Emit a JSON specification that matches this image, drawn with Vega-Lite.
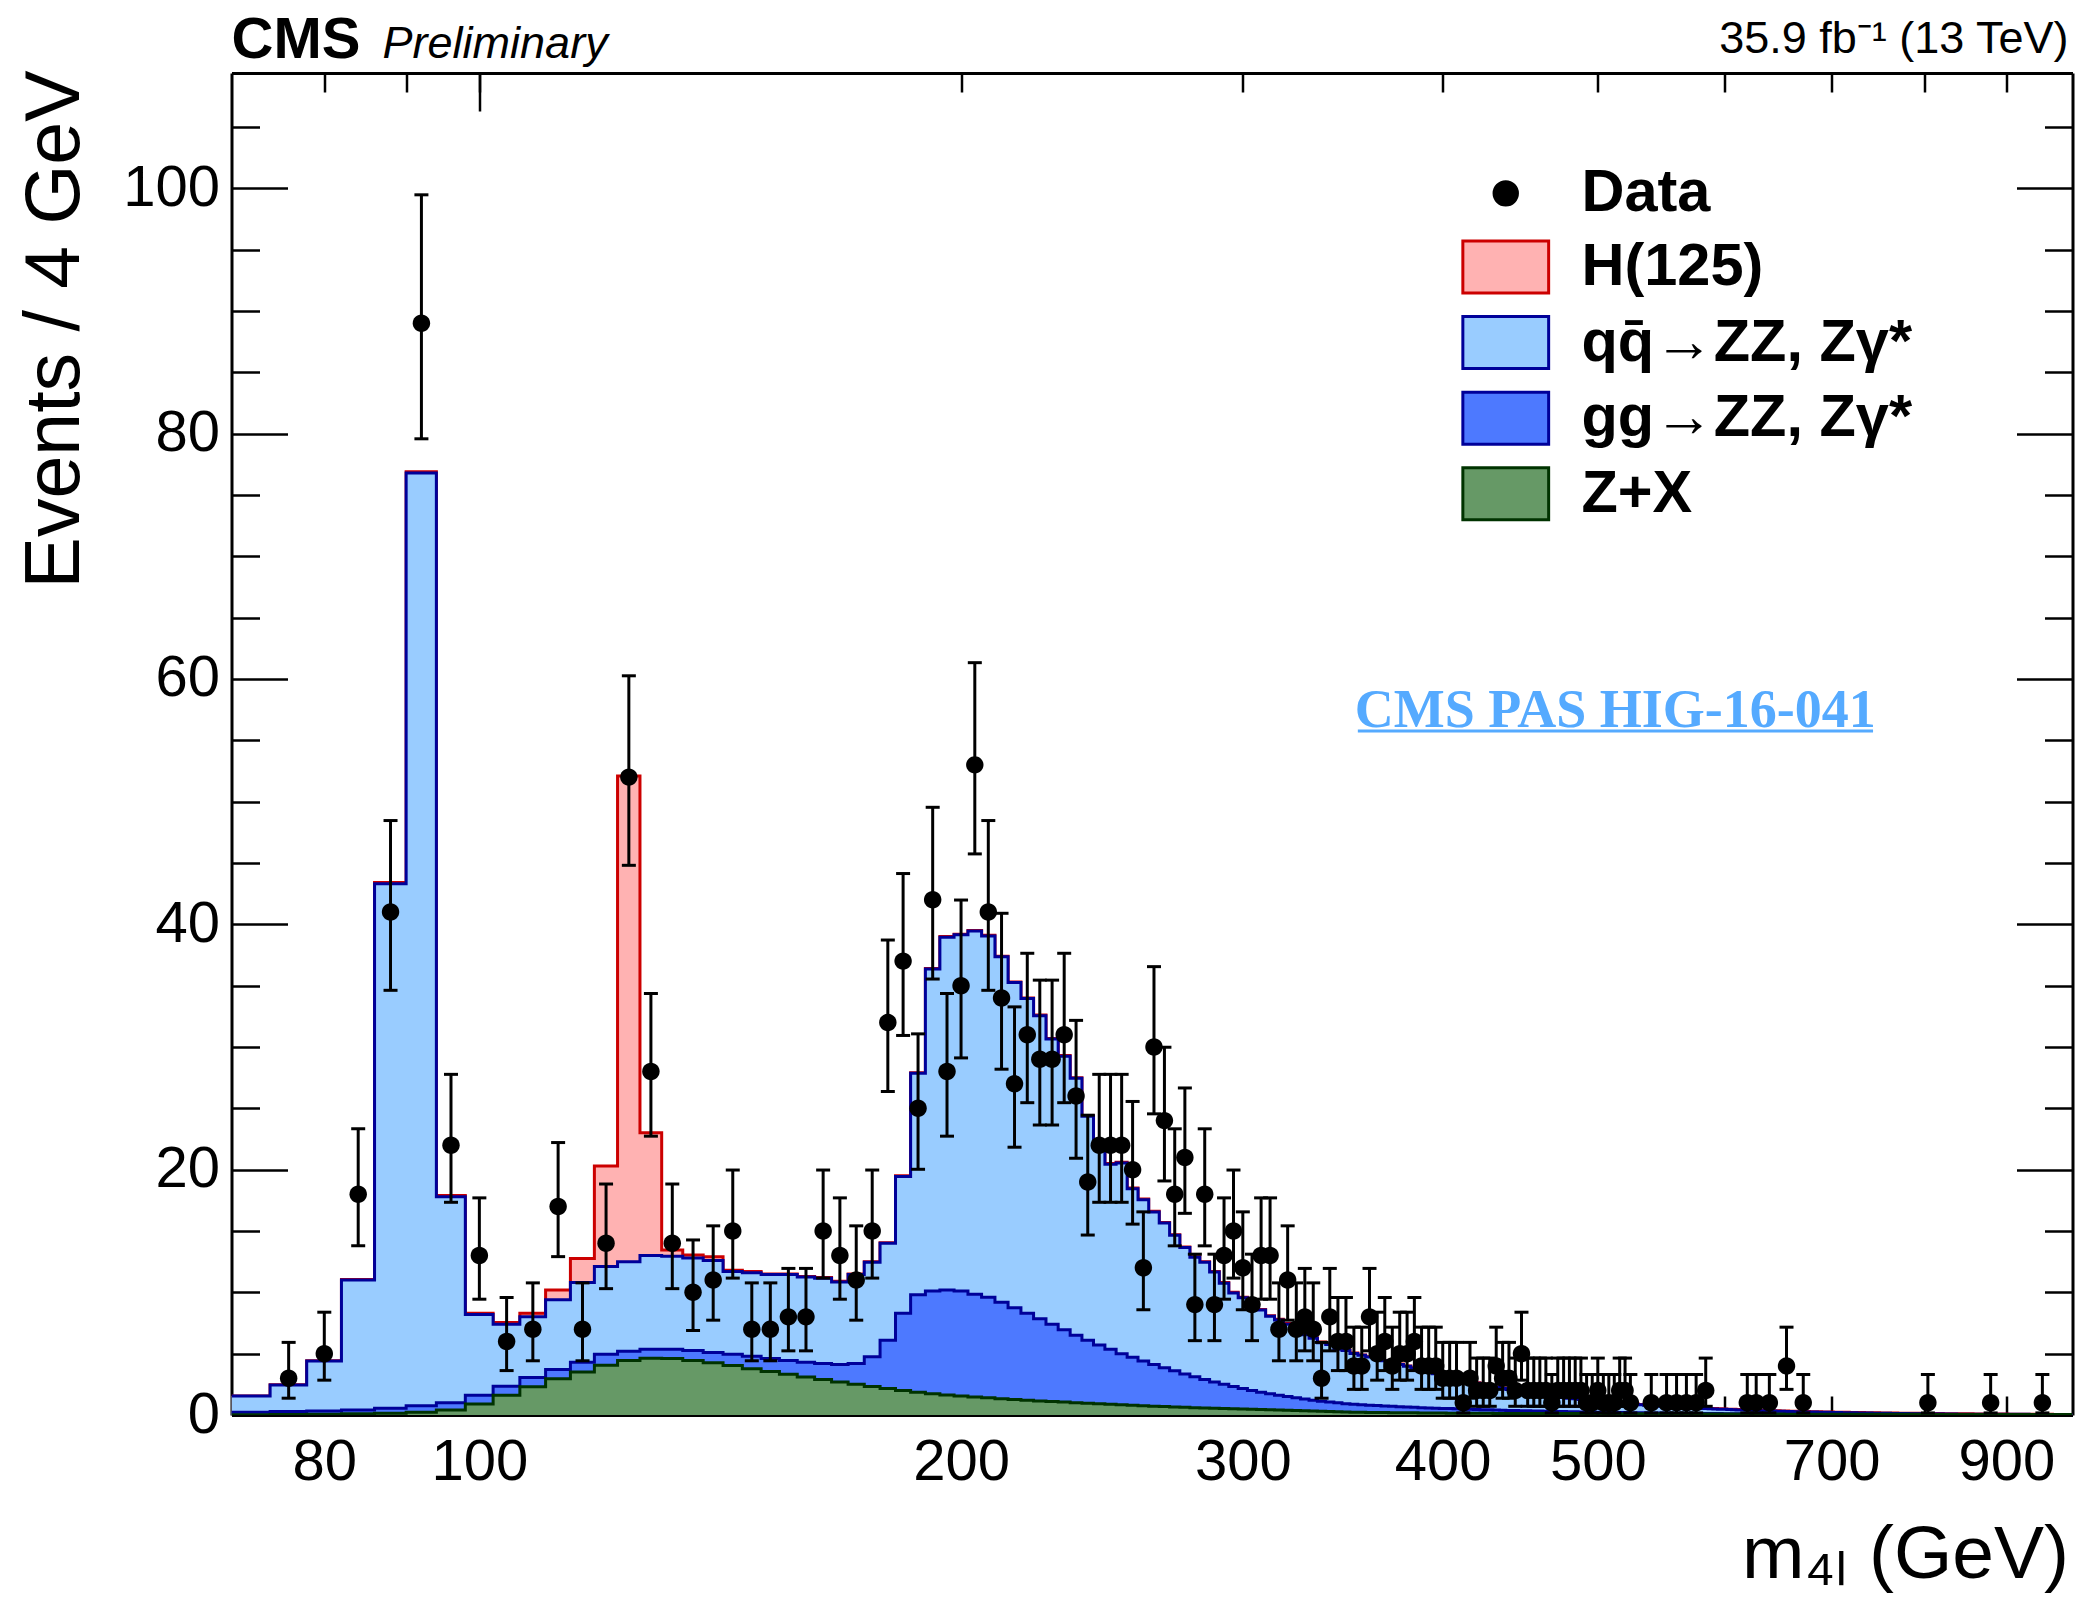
{
"$schema": "https://vega.github.io/schema/vega-lite/v6.json",
"width": 1841, "height": 1342,
"autosize": {"type": "none"},
"padding": {"left": 231.5, "top": 73, "right": 10, "bottom": 186},
"background": "white",
"config": {
 "view": {"stroke": null},
 "font": "Liberation Sans",
 "axis": {"domainColor": "black", "domainWidth": 3, "tickColor": "black", "tickWidth": 2.5, "grid": false,
  "labelFont": "Liberation Sans", "labelFontSize": 58, "labelColor": "black", "titleFont": "Liberation Sans",
  "titleFontWeight": "normal", "titleColor": "black", "labelOverlap": false, "labelFlush": false, "zindex": 2}
},
"datasets": {
"hist": [
{"lo":70,"zx":0.03,"gg":0.22,"qq":1.55,"tot":1.55},
{"lo":74,"zx":0.05,"gg":0.28,"qq":2.45,"tot":2.47},
{"lo":78,"zx":0.07,"gg":0.33,"qq":4.4,"tot":4.42},
{"lo":82,"zx":0.1,"gg":0.4,"qq":11.0,"tot":11.05},
{"lo":86,"zx":0.14,"gg":0.55,"qq":43.3,"tot":43.4},
{"lo":90,"zx":0.22,"gg":0.75,"qq":76.8,"tot":76.9},
{"lo":94,"zx":0.4,"gg":1.0,"qq":17.8,"tot":17.9},
{"lo":98,"zx":0.9,"gg":1.6,"qq":8.2,"tot":8.3},
{"lo":102,"zx":1.6,"gg":2.35,"qq":7.4,"tot":7.55},
{"lo":106,"zx":2.3,"gg":3.05,"qq":8.0,"tot":8.3},
{"lo":110,"zx":2.95,"gg":3.7,"qq":9.4,"tot":10.2},
{"lo":114,"zx":3.5,"gg":4.3,"qq":10.8,"tot":12.75},
{"lo":118,"zx":4.05,"gg":4.95,"qq":12.1,"tot":20.3},
{"lo":122,"zx":4.45,"gg":5.2,"qq":12.5,"tot":52.1},
{"lo":126,"zx":4.62,"gg":5.35,"qq":13.0,"tot":23.0},
{"lo":130,"zx":4.6,"gg":5.35,"qq":12.95,"tot":13.45},
{"lo":134,"zx":4.45,"gg":5.25,"qq":12.8,"tot":13.05},
{"lo":138,"zx":4.25,"gg":5.1,"qq":12.6,"tot":12.9},
{"lo":142,"zx":4.03,"gg":4.95,"qq":11.7,"tot":11.8},
{"lo":146,"zx":3.78,"gg":4.78,"qq":11.6,"tot":11.7},
{"lo":150,"zx":3.55,"gg":4.6,"qq":11.45,"tot":11.5},
{"lo":154,"zx":3.32,"gg":4.45,"qq":11.45,"tot":11.5},
{"lo":158,"zx":3.1,"gg":4.3,"qq":11.25,"tot":11.3},
{"lo":162,"zx":2.9,"gg":4.2,"qq":11.15,"tot":11.2},
{"lo":166,"zx":2.7,"gg":4.12,"qq":10.85,"tot":10.9},
{"lo":170,"zx":2.5,"gg":4.2,"qq":11.45,"tot":11.5},
{"lo":174,"zx":2.32,"gg":4.75,"qq":12.45,"tot":12.5},
{"lo":178,"zx":2.16,"gg":6.1,"qq":14.0,"tot":14.05},
{"lo":182,"zx":2.0,"gg":8.3,"qq":19.45,"tot":19.5},
{"lo":186,"zx":1.86,"gg":9.8,"qq":27.85,"tot":27.9},
{"lo":190,"zx":1.74,"gg":10.1,"qq":36.35,"tot":36.4},
{"lo":194,"zx":1.64,"gg":10.2,"qq":38.95,"tot":39.0},
{"lo":198,"zx":1.55,"gg":10.1,"qq":39.15,"tot":39.2},
{"lo":202,"zx":1.47,"gg":9.85,"qq":39.45,"tot":39.5},
{"lo":206,"zx":1.4,"gg":9.6,"qq":39.05,"tot":39.1},
{"lo":210,"zx":1.33,"gg":9.2,"qq":37.35,"tot":37.4},
{"lo":214,"zx":1.27,"gg":8.75,"qq":35.25,"tot":35.3},
{"lo":218,"zx":1.21,"gg":8.3,"qq":33.95,"tot":34.0},
{"lo":222,"zx":1.15,"gg":7.85,"qq":32.55,"tot":32.6},
{"lo":226,"zx":1.1,"gg":7.4,"qq":30.65,"tot":30.7},
{"lo":230,"zx":1.05,"gg":6.95,"qq":29.25,"tot":29.3},
{"lo":234,"zx":1.0,"gg":6.5,"qq":27.45,"tot":27.5},
{"lo":238,"zx":0.95,"gg":6.1,"qq":24.35,"tot":24.4},
{"lo":242,"zx":0.91,"gg":5.7,"qq":22.25,"tot":22.3},
{"lo":246,"zx":0.87,"gg":5.35,"qq":20.45,"tot":20.5},
{"lo":250,"zx":0.83,"gg":5.0,"qq":20.55,"tot":20.6},
{"lo":254,"zx":0.79,"gg":4.7,"qq":18.45,"tot":18.5},
{"lo":258,"zx":0.75,"gg":4.4,"qq":17.55,"tot":17.6},
{"lo":262,"zx":0.72,"gg":4.12,"qq":16.55,"tot":16.6},
{"lo":266,"zx":0.69,"gg":3.85,"qq":15.65,"tot":15.7},
{"lo":270,"zx":0.66,"gg":3.6,"qq":14.65,"tot":14.7},
{"lo":274,"zx":0.63,"gg":3.35,"qq":13.65,"tot":13.7},
{"lo":278,"zx":0.6,"gg":3.12,"qq":12.85,"tot":12.9},
{"lo":282,"zx":0.57,"gg":2.9,"qq":12.45,"tot":12.5},
{"lo":286,"zx":0.55,"gg":2.7,"qq":11.65,"tot":11.7},
{"lo":290,"zx":0.52,"gg":2.5,"qq":10.75,"tot":10.8},
{"lo":294,"zx":0.5,"gg":2.33,"qq":9.95,"tot":10.0},
{"lo":298,"zx":0.48,"gg":2.16,"qq":9.55,"tot":9.6},
{"lo":302,"zx":0.46,"gg":2.0,"qq":8.95,"tot":9.0},
{"lo":306,"zx":0.44,"gg":1.86,"qq":8.55,"tot":8.6},
{"lo":310,"zx":0.42,"gg":1.73,"qq":8.05,"tot":8.1},
{"lo":314,"zx":0.4,"gg":1.61,"qq":7.75,"tot":7.8},
{"lo":318,"zx":0.38,"gg":1.5,"qq":7.4,"tot":7.45},
{"lo":322,"zx":0.36,"gg":1.4,"qq":7.05,"tot":7.1},
{"lo":326,"zx":0.34,"gg":1.3,"qq":6.55,"tot":6.6},
{"lo":330,"zx":0.32,"gg":1.21,"qq":6.25,"tot":6.3},
{"lo":334,"zx":0.3,"gg":1.13,"qq":5.9,"tot":5.95},
{"lo":338,"zx":0.28,"gg":1.06,"qq":5.75,"tot":5.8},
{"lo":342,"zx":0.26,"gg":0.99,"qq":5.35,"tot":5.4},
{"lo":346,"zx":0.24,"gg":0.92,"qq":5.25,"tot":5.3},
{"lo":350,"zx":0.23,"gg":0.87,"qq":5.02,"tot":5.05},
{"lo":354,"zx":0.22,"gg":0.83,"qq":4.87,"tot":4.9},
{"lo":358,"zx":0.21,"gg":0.8,"qq":4.72,"tot":4.75},
{"lo":362,"zx":0.21,"gg":0.77,"qq":4.57,"tot":4.6},
{"lo":366,"zx":0.2,"gg":0.74,"qq":4.42,"tot":4.45},
{"lo":370,"zx":0.19,"gg":0.71,"qq":4.27,"tot":4.3},
{"lo":374,"zx":0.19,"gg":0.68,"qq":4.12,"tot":4.15},
{"lo":378,"zx":0.18,"gg":0.65,"qq":3.97,"tot":4.0},
{"lo":382,"zx":0.18,"gg":0.63,"qq":3.82,"tot":3.85},
{"lo":386,"zx":0.17,"gg":0.6,"qq":3.67,"tot":3.7},
{"lo":390,"zx":0.17,"gg":0.58,"qq":3.52,"tot":3.55},
{"lo":394,"zx":0.16,"gg":0.56,"qq":3.37,"tot":3.4},
{"lo":398,"zx":0.16,"gg":0.54,"qq":3.22,"tot":3.25},
{"lo":402,"zx":0.15,"gg":0.52,"qq":3.07,"tot":3.1},
{"lo":406,"zx":0.15,"gg":0.5,"qq":2.95,"tot":2.98},
{"lo":410,"zx":0.15,"gg":0.48,"qq":2.83,"tot":2.86},
{"lo":414,"zx":0.15,"gg":0.46,"qq":2.71,"tot":2.74},
{"lo":418,"zx":0.15,"gg":0.45,"qq":2.59,"tot":2.62},
{"lo":422,"zx":0.15,"gg":0.43,"qq":2.47,"tot":2.5},
{"lo":426,"zx":0.15,"gg":0.42,"qq":2.37,"tot":2.4},
{"lo":430,"zx":0.13,"gg":0.4,"qq":2.27,"tot":2.3},
{"lo":434,"zx":0.13,"gg":0.39,"qq":2.17,"tot":2.2},
{"lo":438,"zx":0.13,"gg":0.37,"qq":2.07,"tot":2.1},
{"lo":442,"zx":0.13,"gg":0.36,"qq":1.99,"tot":2.02},
{"lo":446,"zx":0.13,"gg":0.35,"qq":1.91,"tot":1.94},
{"lo":450,"zx":0.13,"gg":0.34,"qq":1.83,"tot":1.86},
{"lo":454,"zx":0.13,"gg":0.33,"qq":1.76,"tot":1.79},
{"lo":458,"zx":0.12,"gg":0.32,"qq":1.69,"tot":1.72},
{"lo":462,"zx":0.12,"gg":0.31,"qq":1.62,"tot":1.65},
{"lo":466,"zx":0.12,"gg":0.3,"qq":1.55,"tot":1.58},
{"lo":470,"zx":0.12,"gg":0.29,"qq":1.49,"tot":1.52},
{"lo":474,"zx":0.12,"gg":0.28,"qq":1.43,"tot":1.46},
{"lo":478,"zx":0.12,"gg":0.27,"qq":1.37,"tot":1.4},
{"lo":482,"zx":0.12,"gg":0.26,"qq":1.32,"tot":1.35},
{"lo":486,"zx":0.11,"gg":0.25,"qq":1.27,"tot":1.3},
{"lo":490,"zx":0.11,"gg":0.25,"qq":1.22,"tot":1.25},
{"lo":494,"zx":0.11,"gg":0.24,"qq":1.17,"tot":1.2},
{"lo":498,"zx":0.11,"gg":0.23,"qq":1.12,"tot":1.15},
{"lo":502,"zx":0.11,"gg":0.22,"qq":1.08,"tot":1.11},
{"lo":506,"zx":0.11,"gg":0.22,"qq":1.04,"tot":1.07},
{"lo":510,"zx":0.11,"gg":0.21,"qq":1.0,"tot":1.03},
{"lo":514,"zx":0.1,"gg":0.2,"qq":0.96,"tot":0.99},
{"lo":518,"zx":0.1,"gg":0.2,"qq":0.92,"tot":0.95},
{"lo":522,"zx":0.1,"gg":0.19,"qq":0.89,"tot":0.92},
{"lo":526,"zx":0.1,"gg":0.19,"qq":0.86,"tot":0.89},
{"lo":530,"zx":0.1,"gg":0.18,"qq":0.83,"tot":0.86},
{"lo":534,"zx":0.1,"gg":0.18,"qq":0.8,"tot":0.83},
{"lo":538,"zx":0.1,"gg":0.17,"qq":0.77,"tot":0.8},
{"lo":542,"zx":0.1,"gg":0.17,"qq":0.74,"tot":0.77},
{"lo":546,"zx":0.1,"gg":0.16,"qq":0.71,"tot":0.74},
{"lo":550,"zx":0.09,"gg":0.16,"qq":0.69,"tot":0.72},
{"lo":554,"zx":0.09,"gg":0.15,"qq":0.66,"tot":0.69},
{"lo":558,"zx":0.09,"gg":0.15,"qq":0.64,"tot":0.67},
{"lo":562,"zx":0.09,"gg":0.15,"qq":0.62,"tot":0.65},
{"lo":566,"zx":0.09,"gg":0.14,"qq":0.6,"tot":0.63},
{"lo":570,"zx":0.09,"gg":0.14,"qq":0.58,"tot":0.61},
{"lo":574,"zx":0.09,"gg":0.13,"qq":0.56,"tot":0.59},
{"lo":578,"zx":0.09,"gg":0.13,"qq":0.54,"tot":0.57},
{"lo":582,"zx":0.09,"gg":0.13,"qq":0.52,"tot":0.55},
{"lo":586,"zx":0.09,"gg":0.12,"qq":0.5,"tot":0.53},
{"lo":590,"zx":0.09,"gg":0.12,"qq":0.49,"tot":0.52},
{"lo":594,"zx":0.08,"gg":0.12,"qq":0.47,"tot":0.5},
{"lo":598,"zx":0.08,"gg":0.11,"qq":0.46,"tot":0.49},
{"lo":602,"zx":0.08,"gg":0.11,"qq":0.44,"tot":0.47},
{"lo":606,"zx":0.08,"gg":0.11,"qq":0.43,"tot":0.46},
{"lo":610,"zx":0.08,"gg":0.1,"qq":0.41,"tot":0.44},
{"lo":614,"zx":0.08,"gg":0.1,"qq":0.4,"tot":0.43},
{"lo":618,"zx":0.08,"gg":0.1,"qq":0.39,"tot":0.42},
{"lo":622,"zx":0.08,"gg":0.1,"qq":0.38,"tot":0.41},
{"lo":626,"zx":0.08,"gg":0.1,"qq":0.36,"tot":0.39},
{"lo":630,"zx":0.08,"gg":0.1,"qq":0.35,"tot":0.38},
{"lo":634,"zx":0.08,"gg":0.1,"qq":0.34,"tot":0.37},
{"lo":638,"zx":0.08,"gg":0.1,"qq":0.33,"tot":0.36},
{"lo":642,"zx":0.08,"gg":0.1,"qq":0.32,"tot":0.35},
{"lo":646,"zx":0.08,"gg":0.1,"qq":0.31,"tot":0.34},
{"lo":650,"zx":0.08,"gg":0.1,"qq":0.3,"tot":0.33},
{"lo":654,"zx":0.07,"gg":0.09,"qq":0.29,"tot":0.32},
{"lo":658,"zx":0.07,"gg":0.09,"qq":0.28,"tot":0.31},
{"lo":662,"zx":0.07,"gg":0.09,"qq":0.27,"tot":0.3},
{"lo":666,"zx":0.07,"gg":0.09,"qq":0.27,"tot":0.3},
{"lo":670,"zx":0.07,"gg":0.09,"qq":0.26,"tot":0.29},
{"lo":674,"zx":0.07,"gg":0.09,"qq":0.25,"tot":0.28},
{"lo":678,"zx":0.07,"gg":0.09,"qq":0.24,"tot":0.27},
{"lo":682,"zx":0.07,"gg":0.09,"qq":0.24,"tot":0.27},
{"lo":686,"zx":0.07,"gg":0.09,"qq":0.23,"tot":0.26},
{"lo":690,"zx":0.07,"gg":0.09,"qq":0.22,"tot":0.25},
{"lo":694,"zx":0.07,"gg":0.08,"qq":0.22,"tot":0.25},
{"lo":698,"zx":0.07,"gg":0.08,"qq":0.21,"tot":0.24},
{"lo":702,"zx":0.07,"gg":0.08,"qq":0.2,"tot":0.23},
{"lo":706,"zx":0.07,"gg":0.08,"qq":0.2,"tot":0.23},
{"lo":710,"zx":0.07,"gg":0.08,"qq":0.19,"tot":0.22},
{"lo":714,"zx":0.06,"gg":0.08,"qq":0.19,"tot":0.22},
{"lo":718,"zx":0.06,"gg":0.08,"qq":0.18,"tot":0.21},
{"lo":722,"zx":0.06,"gg":0.08,"qq":0.18,"tot":0.21},
{"lo":726,"zx":0.06,"gg":0.08,"qq":0.17,"tot":0.2},
{"lo":730,"zx":0.06,"gg":0.08,"qq":0.17,"tot":0.2},
{"lo":734,"zx":0.06,"gg":0.07,"qq":0.16,"tot":0.19},
{"lo":738,"zx":0.06,"gg":0.07,"qq":0.16,"tot":0.19},
{"lo":742,"zx":0.06,"gg":0.07,"qq":0.15,"tot":0.18},
{"lo":746,"zx":0.06,"gg":0.07,"qq":0.15,"tot":0.18},
{"lo":750,"zx":0.06,"gg":0.07,"qq":0.14,"tot":0.17},
{"lo":754,"zx":0.06,"gg":0.07,"qq":0.14,"tot":0.17},
{"lo":758,"zx":0.06,"gg":0.07,"qq":0.14,"tot":0.17},
{"lo":762,"zx":0.06,"gg":0.07,"qq":0.13,"tot":0.16},
{"lo":766,"zx":0.06,"gg":0.07,"qq":0.13,"tot":0.16},
{"lo":770,"zx":0.06,"gg":0.07,"qq":0.12,"tot":0.15},
{"lo":774,"zx":0.06,"gg":0.06,"qq":0.12,"tot":0.15},
{"lo":778,"zx":0.06,"gg":0.06,"qq":0.12,"tot":0.15},
{"lo":782,"zx":0.06,"gg":0.06,"qq":0.11,"tot":0.14},
{"lo":786,"zx":0.06,"gg":0.06,"qq":0.11,"tot":0.14},
{"lo":790,"zx":0.06,"gg":0.06,"qq":0.11,"tot":0.14},
{"lo":794,"zx":0.05,"gg":0.06,"qq":0.1,"tot":0.13},
{"lo":798,"zx":0.05,"gg":0.06,"qq":0.1,"tot":0.13},
{"lo":802,"zx":0.05,"gg":0.06,"qq":0.1,"tot":0.13},
{"lo":806,"zx":0.05,"gg":0.06,"qq":0.09,"tot":0.12},
{"lo":810,"zx":0.05,"gg":0.06,"qq":0.09,"tot":0.12},
{"lo":814,"zx":0.05,"gg":0.06,"qq":0.09,"tot":0.12},
{"lo":818,"zx":0.05,"gg":0.06,"qq":0.09,"tot":0.12},
{"lo":822,"zx":0.05,"gg":0.05,"qq":0.08,"tot":0.11},
{"lo":826,"zx":0.05,"gg":0.05,"qq":0.08,"tot":0.11},
{"lo":830,"zx":0.05,"gg":0.05,"qq":0.08,"tot":0.11},
{"lo":834,"zx":0.05,"gg":0.05,"qq":0.08,"tot":0.11},
{"lo":838,"zx":0.05,"gg":0.05,"qq":0.07,"tot":0.1},
{"lo":842,"zx":0.05,"gg":0.05,"qq":0.07,"tot":0.1},
{"lo":846,"zx":0.05,"gg":0.05,"qq":0.07,"tot":0.1},
{"lo":850,"zx":0.05,"gg":0.05,"qq":0.07,"tot":0.1},
{"lo":854,"zx":0.05,"gg":0.05,"qq":0.07,"tot":0.1},
{"lo":858,"zx":0.05,"gg":0.05,"qq":0.06,"tot":0.09},
{"lo":862,"zx":0.05,"gg":0.05,"qq":0.06,"tot":0.09},
{"lo":866,"zx":0.05,"gg":0.05,"qq":0.06,"tot":0.09},
{"lo":870,"zx":0.05,"gg":0.05,"qq":0.06,"tot":0.09},
{"lo":874,"zx":0.04,"gg":0.05,"qq":0.06,"tot":0.09},
{"lo":878,"zx":0.04,"gg":0.05,"qq":0.06,"tot":0.08},
{"lo":882,"zx":0.04,"gg":0.045,"qq":0.06,"tot":0.08},
{"lo":886,"zx":0.04,"gg":0.045,"qq":0.06,"tot":0.08},
{"lo":890,"zx":0.04,"gg":0.045,"qq":0.06,"tot":0.08},
{"lo":894,"zx":0.04,"gg":0.045,"qq":0.06,"tot":0.08},
{"lo":898,"zx":0.04,"gg":0.045,"qq":0.06,"tot":0.08},
{"lo":902,"zx":0.04,"gg":0.045,"qq":0.055,"tot":0.07},
{"lo":906,"zx":0.04,"gg":0.045,"qq":0.055,"tot":0.07},
{"lo":910,"zx":0.04,"gg":0.045,"qq":0.055,"tot":0.07},
{"lo":914,"zx":0.04,"gg":0.045,"qq":0.055,"tot":0.07},
{"lo":918,"zx":0.04,"gg":0.045,"qq":0.055,"tot":0.07},
{"lo":922,"zx":0.04,"gg":0.045,"qq":0.055,"tot":0.07},
{"lo":926,"zx":0.04,"gg":0.045,"qq":0.055,"tot":0.07},
{"lo":930,"zx":0.04,"gg":0.04,"qq":0.05,"tot":0.06},
{"lo":934,"zx":0.04,"gg":0.04,"qq":0.05,"tot":0.06},
{"lo":938,"zx":0.04,"gg":0.04,"qq":0.05,"tot":0.06},
{"lo":942,"zx":0.04,"gg":0.04,"qq":0.05,"tot":0.06},
{"lo":946,"zx":0.04,"gg":0.04,"qq":0.05,"tot":0.06},
{"lo":950,"zx":0.04,"gg":0.04,"qq":0.05,"tot":0.06},
{"lo":954,"zx":0.04,"gg":0.04,"qq":0.05,"tot":0.06},
{"lo":958,"zx":0.04,"gg":0.04,"qq":0.05,"tot":0.06},
{"lo":962,"zx":0.04,"gg":0.04,"qq":0.05,"tot":0.05},
{"lo":966,"zx":0.04,"gg":0.04,"qq":0.05,"tot":0.05},
{"lo":970,"zx":0.04,"gg":0.04,"qq":0.05,"tot":0.05},
{"lo":974,"zx":0.04,"gg":0.04,"qq":0.05,"tot":0.05},
{"lo":978,"zx":0.04,"gg":0.04,"qq":0.05,"tot":0.05},
{"lo":982,"zx":0.04,"gg":0.04,"qq":0.05,"tot":0.05},
{"lo":986,"zx":0.04,"gg":0.04,"qq":0.05,"tot":0.05},
{"lo":990,"zx":0.04,"gg":0.04,"qq":0.05,"tot":0.05}
],
"pts": [
{"m":76,"n":3,"lo":1.37,"hi":5.92},
{"m":80,"n":5,"lo":2.84,"hi":8.38},
{"m":84,"n":18,"lo":13.79,"hi":23.33},
{"m":88,"n":41,"lo":34.62,"hi":48.46},
{"m":92,"n":89,"lo":79.58,"hi":99.47},
{"m":96,"n":22,"lo":17.34,"hi":27.77},
{"m":100,"n":13,"lo":9.44,"hi":17.7},
{"m":104,"n":6,"lo":3.62,"hi":9.58},
{"m":108,"n":7,"lo":4.42,"hi":10.77},
{"m":112,"n":17,"lo":12.91,"hi":22.21},
{"m":116,"n":7,"lo":4.42,"hi":10.77},
{"m":120,"n":14,"lo":10.3,"hi":18.83},
{"m":124,"n":52,"lo":44.81,"hi":60.26},
{"m":128,"n":28,"lo":22.73,"hi":34.36},
{"m":132,"n":14,"lo":10.3,"hi":18.83},
{"m":136,"n":10,"lo":6.89,"hi":14.27},
{"m":140,"n":11,"lo":7.73,"hi":15.42},
{"m":144,"n":15,"lo":11.16,"hi":19.97},
{"m":148,"n":7,"lo":4.42,"hi":10.77},
{"m":152,"n":7,"lo":4.42,"hi":10.77},
{"m":156,"n":8,"lo":5.23,"hi":11.95},
{"m":160,"n":8,"lo":5.23,"hi":11.95},
{"m":164,"n":15,"lo":11.16,"hi":19.97},
{"m":168,"n":13,"lo":9.44,"hi":17.7},
{"m":172,"n":11,"lo":7.73,"hi":15.42},
{"m":176,"n":15,"lo":11.16,"hi":19.97},
{"m":180,"n":32,"lo":26.37,"hi":38.72},
{"m":184,"n":37,"lo":30.94,"hi":44.14},
{"m":188,"n":25,"lo":20.03,"hi":31.07},
{"m":192,"n":42,"lo":35.54,"hi":49.54},
{"m":196,"n":28,"lo":22.73,"hi":34.36},
{"m":200,"n":35,"lo":29.11,"hi":41.98},
{"m":204,"n":53,"lo":45.74,"hi":61.33},
{"m":208,"n":41,"lo":34.62,"hi":48.46},
{"m":212,"n":34,"lo":28.19,"hi":40.9},
{"m":216,"n":27,"lo":21.83,"hi":33.27},
{"m":220,"n":31,"lo":25.46,"hi":37.64},
{"m":224,"n":29,"lo":23.64,"hi":35.45},
{"m":228,"n":29,"lo":23.64,"hi":35.45},
{"m":232,"n":31,"lo":25.46,"hi":37.64},
{"m":236,"n":26,"lo":20.93,"hi":32.17},
{"m":240,"n":19,"lo":14.67,"hi":24.44},
{"m":244,"n":22,"lo":17.34,"hi":27.77},
{"m":248,"n":22,"lo":17.34,"hi":27.77},
{"m":252,"n":22,"lo":17.34,"hi":27.77},
{"m":256,"n":20,"lo":15.56,"hi":25.56},
{"m":260,"n":12,"lo":8.58,"hi":16.56},
{"m":264,"n":30,"lo":24.55,"hi":36.55},
{"m":268,"n":24,"lo":19.08,"hi":29.98},
{"m":272,"n":18,"lo":13.79,"hi":23.33},
{"m":276,"n":21,"lo":16.44,"hi":26.66},
{"m":280,"n":9,"lo":6.06,"hi":13.11},
{"m":284,"n":18,"lo":13.79,"hi":23.33},
{"m":288,"n":9,"lo":6.06,"hi":13.11},
{"m":292,"n":13,"lo":9.44,"hi":17.7},
{"m":296,"n":15,"lo":11.16,"hi":19.97},
{"m":300,"n":12,"lo":8.58,"hi":16.56},
{"m":304,"n":9,"lo":6.06,"hi":13.11},
{"m":308,"n":13,"lo":9.44,"hi":17.7},
{"m":312,"n":13,"lo":9.44,"hi":17.7},
{"m":316,"n":7,"lo":4.42,"hi":10.77},
{"m":320,"n":11,"lo":7.73,"hi":15.42},
{"m":324,"n":7,"lo":4.42,"hi":10.77},
{"m":328,"n":8,"lo":5.23,"hi":11.95},
{"m":332,"n":7,"lo":4.42,"hi":10.77},
{"m":336,"n":3,"lo":1.37,"hi":5.92},
{"m":340,"n":8,"lo":5.23,"hi":11.95},
{"m":344,"n":6,"lo":3.62,"hi":9.58},
{"m":348,"n":6,"lo":3.62,"hi":9.58},
{"m":352,"n":4,"lo":2.09,"hi":7.16},
{"m":356,"n":4,"lo":2.09,"hi":7.16},
{"m":360,"n":8,"lo":5.23,"hi":11.95},
{"m":364,"n":5,"lo":2.84,"hi":8.38},
{"m":368,"n":6,"lo":3.62,"hi":9.58},
{"m":372,"n":4,"lo":2.09,"hi":7.16},
{"m":376,"n":5,"lo":2.84,"hi":8.38},
{"m":380,"n":5,"lo":2.84,"hi":8.38},
{"m":384,"n":6,"lo":3.62,"hi":9.58},
{"m":388,"n":4,"lo":2.09,"hi":7.16},
{"m":392,"n":4,"lo":2.09,"hi":7.16},
{"m":396,"n":4,"lo":2.09,"hi":7.16},
{"m":400,"n":3,"lo":1.37,"hi":5.92},
{"m":404,"n":3,"lo":1.37,"hi":5.92},
{"m":408,"n":3,"lo":1.37,"hi":5.92},
{"m":412,"n":1,"lo":0.17,"hi":3.3},
{"m":416,"n":3,"lo":1.37,"hi":5.92},
{"m":420,"n":2,"lo":0.71,"hi":4.64},
{"m":424,"n":2,"lo":0.71,"hi":4.64},
{"m":428,"n":2,"lo":0.71,"hi":4.64},
{"m":432,"n":4,"lo":2.09,"hi":7.16},
{"m":436,"n":3,"lo":1.37,"hi":5.92},
{"m":440,"n":3,"lo":1.37,"hi":5.92},
{"m":444,"n":2,"lo":0.71,"hi":4.64},
{"m":448,"n":5,"lo":2.84,"hi":8.38},
{"m":452,"n":2,"lo":0.71,"hi":4.64},
{"m":456,"n":2,"lo":0.71,"hi":4.64},
{"m":460,"n":2,"lo":0.71,"hi":4.64},
{"m":464,"n":2,"lo":0.71,"hi":4.64},
{"m":468,"n":1,"lo":0.17,"hi":3.3},
{"m":472,"n":2,"lo":0.71,"hi":4.64},
{"m":476,"n":2,"lo":0.71,"hi":4.64},
{"m":480,"n":2,"lo":0.71,"hi":4.64},
{"m":484,"n":2,"lo":0.71,"hi":4.64},
{"m":488,"n":2,"lo":0.71,"hi":4.64},
{"m":492,"n":1,"lo":0.17,"hi":3.3},
{"m":496,"n":1,"lo":0.17,"hi":3.3},
{"m":500,"n":2,"lo":0.71,"hi":4.64},
{"m":504,"n":1,"lo":0.17,"hi":3.3},
{"m":508,"n":1,"lo":0.17,"hi":3.3},
{"m":512,"n":1,"lo":0.17,"hi":3.3},
{"m":516,"n":2,"lo":0.71,"hi":4.64},
{"m":520,"n":2,"lo":0.71,"hi":4.64},
{"m":524,"n":1,"lo":0.17,"hi":3.3},
{"m":540,"n":1,"lo":0.17,"hi":3.3},
{"m":552,"n":1,"lo":0.17,"hi":3.3},
{"m":560,"n":1,"lo":0.17,"hi":3.3},
{"m":568,"n":1,"lo":0.17,"hi":3.3},
{"m":576,"n":1,"lo":0.17,"hi":3.3},
{"m":584,"n":2,"lo":0.71,"hi":4.64},
{"m":620,"n":1,"lo":0.17,"hi":3.3},
{"m":628,"n":1,"lo":0.17,"hi":3.3},
{"m":640,"n":1,"lo":0.17,"hi":3.3},
{"m":656,"n":4,"lo":2.09,"hi":7.16},
{"m":672,"n":1,"lo":0.17,"hi":3.3},
{"m":804,"n":1,"lo":0.17,"hi":3.3},
{"m":880,"n":1,"lo":0.17,"hi":3.3},
{"m":948,"n":1,"lo":0.17,"hi":3.3}
]
},
"layer": [
{"data": {"name": "hist"}, "mark": {"type": "area", "interpolate": "step-after", "clip": true},
 "encoding": {
  "x": {"field": "lo", "type": "quantitative", "scale": {"type": "log", "domain": [70, 990], "nice": false},
   "axis": {"orient": "bottom", "values": [80,90,100,200,300,400,500,600,700,800,900], "tickSize": -19, "format": "d",
    "labelExpr": "(datum.value == 90 || datum.value == 600 || datum.value == 800) ? '' : datum.label",
    "labelPadding": 37, "labelBaseline": "top", "labelAlign": "center",
    "title": "m₄ₗ (GeV)", "titleFontSize": 75, "titleAlign": "right", "titleAnchor": "end", "titleX": 1837, "titleY": 162, "titleBaseline": "alphabetic"}},
  "y": {"field": "tot", "type": "quantitative", "stack": null, "scale": {"domain": [0, 109.4], "nice": false, "zero": true},
   "axis": {"orient": "left", "values": [0,20,40,60,80,100], "tickSize": -56, "labelPadding": 68, "format": "d",
    "title": "Events / 4 GeV", "titleFontSize": 77, "titleAngle": -90, "titleAlign": "right", "titleBaseline": "alphabetic", "titleX": -153, "titleY": -3}},
  "fill": {"datum": "H(125)",
   "scale": {"domain": ["Data", "H(125)", "qq̄→ZZ, Zγ*", "gg→ZZ, Zγ*", "Z+X"], "range": ["black", "#ffb2b2", "#99ccff", "#4d79ff", "#669966"]},
   "legend": {"orient": "none", "legendX": 1244.5, "legendY": 90.6, "title": null, "padding": 0, "direction": "vertical",
    "symbolSize": 2704, "symbolStrokeWidth": 3, "symbolOpacity": 1,
    "labelFont": "Liberation Sans", "labelFontSize": 59.5, "labelFontWeight": "bold", "labelColor": "black", "labelOffset": 46, "labelLimit": 1000,
    "rowPadding": 10.6,
    "encode": {"symbols": {"update": {"stroke": {"scale": "stroke", "field": "value"}, "shape": {"scale": "shape", "field": "value"}, "strokeWidth": {"value": 3}, "opacity": {"value": 1}}}}}}
 }},
{"data": {"name": "hist"}, "mark": {"type": "line", "interpolate": "step-after", "strokeWidth": 3, "clip": true},
 "encoding": {
  "x": {"field": "lo", "type": "quantitative", "scale": {"type": "log", "domain": [70, 990], "nice": false},
   "axis": {"orient": "bottom", "values": [100], "tickSize": -38, "labels": false, "domain": false, "title": null}},
  "y": {"field": "tot", "type": "quantitative", "scale": {"domain": [0, 109.4], "nice": false, "zero": true},
   "axis": {"orient": "left", "values": [5,10,15,25,30,35,45,50,55,65,70,75,85,90,95,105], "tickSize": -28, "labels": false, "domain": false, "title": null}},
  "stroke": {"datum": "H(125)",
   "scale": {"domain": ["Data", "H(125)", "qq̄→ZZ, Zγ*", "gg→ZZ, Zγ*", "Z+X"], "range": ["black", "#cc0000", "#000099", "#000099", "#003300"]},
   "legend": null}
 }},
{"data": {"name": "hist"}, "mark": {"type": "area", "interpolate": "step-after", "clip": true},
 "encoding": {
  "x": {"field": "lo", "type": "quantitative", "scale": {"type": "log", "domain": [70, 990], "nice": false},
   "axis": {"orient": "top", "values": [80,90,100,200,300,400,500,600,700,800,900], "tickSize": -19, "labels": false, "title": null}},
  "y": {"field": "qq", "type": "quantitative", "stack": null, "scale": {"domain": [0, 109.4], "nice": false, "zero": true},
   "axis": {"orient": "right", "values": [0,20,40,60,80,100], "tickSize": -56, "labels": false, "title": null}},
  "fill": {"datum": "qq̄→ZZ, Zγ*"}
 }},
{"data": {"name": "hist"}, "mark": {"type": "line", "interpolate": "step-after", "strokeWidth": 3, "clip": true},
 "encoding": {
  "x": {"field": "lo", "type": "quantitative", "scale": {"type": "log", "domain": [70, 990], "nice": false},
   "axis": {"orient": "top", "values": [100], "tickSize": -38, "labels": false, "domain": false, "title": null}},
  "y": {"field": "qq", "type": "quantitative", "scale": {"domain": [0, 109.4], "nice": false, "zero": true},
   "axis": {"orient": "right", "values": [5,10,15,25,30,35,45,50,55,65,70,75,85,90,95,105], "tickSize": -28, "labels": false, "domain": false, "title": null}},
  "stroke": {"datum": "qq̄→ZZ, Zγ*", "legend": null}
 }},
{"data": {"name": "hist"}, "mark": {"type": "area", "interpolate": "step-after", "clip": true},
 "encoding": {
  "x": {"field": "lo", "type": "quantitative", "scale": {"type": "log", "domain": [70, 990], "nice": false}, "axis": null},
  "y": {"field": "gg", "type": "quantitative", "stack": null, "scale": {"domain": [0, 109.4], "nice": false, "zero": true}, "axis": null},
  "fill": {"datum": "gg→ZZ, Zγ*"}
 }},
{"data": {"name": "hist"}, "mark": {"type": "line", "interpolate": "step-after", "strokeWidth": 3, "clip": true},
 "encoding": {
  "x": {"field": "lo", "type": "quantitative", "scale": {"type": "log", "domain": [70, 990], "nice": false}, "axis": null},
  "y": {"field": "gg", "type": "quantitative", "scale": {"domain": [0, 109.4], "nice": false, "zero": true}, "axis": null},
  "stroke": {"datum": "gg→ZZ, Zγ*", "legend": null}
 }},
{"data": {"name": "hist"}, "mark": {"type": "area", "interpolate": "step-after", "clip": true},
 "encoding": {
  "x": {"field": "lo", "type": "quantitative", "scale": {"type": "log", "domain": [70, 990], "nice": false}, "axis": null},
  "y": {"field": "zx", "type": "quantitative", "stack": null, "scale": {"domain": [0, 109.4], "nice": false, "zero": true}, "axis": null},
  "fill": {"datum": "Z+X"}
 }},
{"data": {"name": "hist"}, "mark": {"type": "line", "interpolate": "step-after", "strokeWidth": 3, "clip": true},
 "encoding": {
  "x": {"field": "lo", "type": "quantitative", "scale": {"type": "log", "domain": [70, 990], "nice": false}, "axis": null},
  "y": {"field": "zx", "type": "quantitative", "scale": {"domain": [0, 109.4], "nice": false, "zero": true}, "axis": null},
  "stroke": {"datum": "Z+X", "legend": null}
 }},
{"data": {"name": "pts"}, "mark": {"type": "rule", "color": "black", "strokeWidth": 3},
 "encoding": {
  "x": {"field": "m", "type": "quantitative", "scale": {"type": "log", "domain": [70, 990], "nice": false}, "axis": null},
  "y": {"field": "lo", "type": "quantitative", "scale": {"domain": [0, 109.4], "nice": false, "zero": true}, "axis": null},
  "y2": {"field": "hi"}
 }},
{"data": {"name": "pts"}, "mark": {"type": "tick", "orient": "horizontal", "color": "black", "size": 14, "thickness": 3, "opacity": 1},
 "encoding": {
  "x": {"field": "m", "type": "quantitative", "scale": {"type": "log", "domain": [70, 990], "nice": false}, "axis": null},
  "y": {"field": "lo", "type": "quantitative", "scale": {"domain": [0, 109.4], "nice": false, "zero": true}, "axis": null}
 }},
{"data": {"name": "pts"}, "mark": {"type": "tick", "orient": "horizontal", "color": "black", "size": 14, "thickness": 3, "opacity": 1},
 "encoding": {
  "x": {"field": "m", "type": "quantitative", "scale": {"type": "log", "domain": [70, 990], "nice": false}, "axis": null},
  "y": {"field": "hi", "type": "quantitative", "scale": {"domain": [0, 109.4], "nice": false, "zero": true}, "axis": null}
 }},
{"data": {"name": "pts"}, "mark": {"type": "point", "filled": true, "opacity": 1, "size": 1500, "strokeWidth": 0},
 "encoding": {
  "x": {"field": "m", "type": "quantitative", "scale": {"type": "log", "domain": [70, 990], "nice": false}, "axis": null},
  "y": {"field": "n", "type": "quantitative", "scale": {"domain": [0, 109.4], "nice": false, "zero": true}, "axis": null},
  "fill": {"datum": "Data"},
  "shape": {"datum": "Data",
   "scale": {"domain": ["Data", "H(125)", "qq̄→ZZ, Zγ*", "gg→ZZ, Zγ*", "Z+X"],
    "range": ["M-0.45,0A0.45,0.45,0,1,0,0.45,0A0.45,0.45,0,1,0,-0.45,0Z", "M-1.65,-1H1.65V1H-1.65Z", "M-1.65,-1H1.65V1H-1.65Z", "M-1.65,-1H1.65V1H-1.65Z", "M-1.65,-1H1.65V1H-1.65Z"]},
   "legend": null}
 }},
{"data": {"values": [{"t": "CMS"}]}, "mark": {"type": "text", "align": "left", "baseline": "alphabetic", "fontSize": 58, "fontWeight": "bold", "font": "Liberation Sans", "color": "black", "dy": -15},
 "encoding": {
  "x": {"datum": 70, "type": "quantitative", "scale": {"type": "log", "domain": [70, 990], "nice": false}, "axis": null},
  "y": {"datum": 109.4, "type": "quantitative", "scale": {"domain": [0, 109.4], "nice": false, "zero": true}, "axis": null},
  "text": {"field": "t"}
 }},
{"data": {"values": [{"t": "Preliminary"}]}, "mark": {"type": "text", "align": "left", "baseline": "alphabetic", "fontSize": 45, "fontStyle": "italic", "font": "Liberation Sans", "color": "black", "dy": -15},
 "encoding": {
  "x": {"datum": 87, "type": "quantitative", "scale": {"type": "log", "domain": [70, 990], "nice": false}, "axis": null},
  "y": {"datum": 109.4, "type": "quantitative", "scale": {"domain": [0, 109.4], "nice": false, "zero": true}, "axis": null},
  "text": {"field": "t"}
 }},
{"data": {"values": [{"t": "35.9 fb⁻¹ (13 TeV)"}]}, "mark": {"type": "text", "align": "right", "baseline": "alphabetic", "fontSize": 45, "font": "Liberation Sans", "color": "black", "dy": -20, "dx": -4},
 "encoding": {
  "x": {"datum": 990, "type": "quantitative", "scale": {"type": "log", "domain": [70, 990], "nice": false}, "axis": null},
  "y": {"datum": 109.4, "type": "quantitative", "scale": {"domain": [0, 109.4], "nice": false, "zero": true}, "axis": null},
  "text": {"field": "t"}
 }},
{"data": {"values": [{"t": "CMS PAS HIG-16-041"}]}, "mark": {"type": "text", "align": "center", "baseline": "alphabetic", "fontSize": 54, "fontWeight": "bold", "font": "Liberation Serif", "color": "#55aaff"},
 "encoding": {
  "x": {"datum": 512.7, "type": "quantitative", "scale": {"type": "log", "domain": [70, 990], "nice": false}, "axis": null},
  "y": {"datum": 56.09, "type": "quantitative", "scale": {"domain": [0, 109.4], "nice": false, "zero": true}, "axis": null},
  "text": {"field": "t"}
 }},
{"data": {"values": [{}]}, "mark": {"type": "rule", "color": "#55aaff", "strokeWidth": 3},
 "encoding": {
  "x": {"datum": 354, "type": "quantitative", "scale": {"type": "log", "domain": [70, 990], "nice": false}, "axis": null},
  "x2": {"datum": 743},
  "y": {"datum": 55.76, "type": "quantitative", "scale": {"domain": [0, 109.4], "nice": false, "zero": true}, "axis": null}
 }}
],
"resolve": {"axis": {"x": "independent", "y": "independent"}}
}
